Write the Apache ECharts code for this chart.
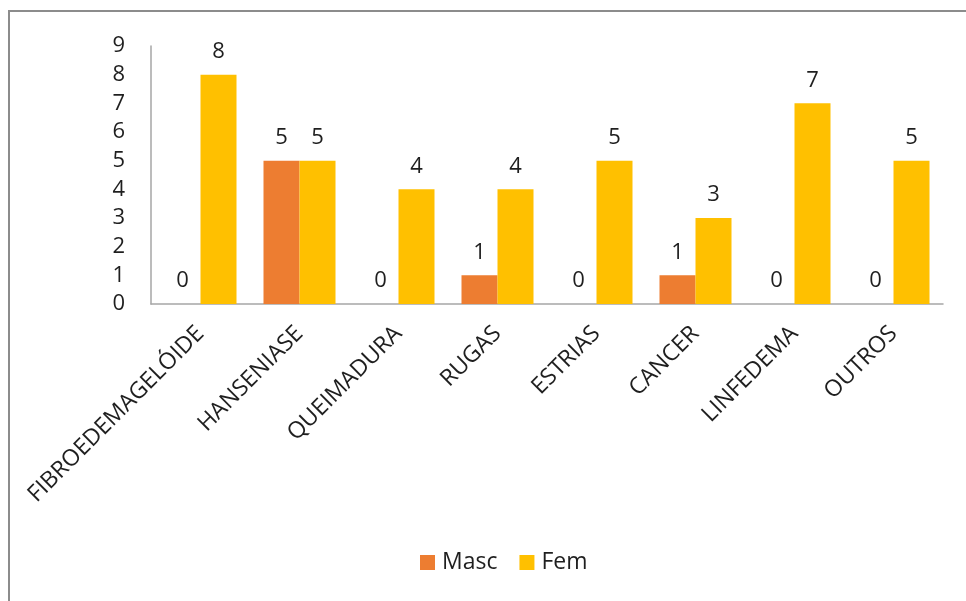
<!DOCTYPE html>
<html>
<head>
<meta charset="utf-8">
<script src="https://cdn.jsdelivr.net/npm/echarts@6/dist/echarts.min.js"></script>
<style>
  html, body { margin: 0; padding: 0; background: #fff; }
  .frame {
    position: absolute; left: 8px; top: 10px; width: 980px; height: 620px;
    border: 2px solid #8c8c8c; box-sizing: border-box;
  }
  #chart { position: absolute; left: 0; top: 0; width: 966px; height: 601px; }
</style>
</head>
<body>
<div class="frame"></div>
<div id="chart"></div>
<script>
// categorias e valores
const categories = ['FIBROEDEMAGELÓIDE', 'HANSENIASE', 'QUEIMADURA', 'RUGAS', 'ESTRIAS', 'CANCER', 'LINFEDEMA', 'OUTROS']
const masc = [0, 5, 0, 1, 0, 1, 0, 0]
const fem = [8, 5, 4, 4, 5, 3, 7, 5]

const font = 'Open Sans'
const textColor = '#1f1f1f'

let myChart = echarts.init(document.getElementById('chart'))
let labelStyle = {
  show: true,
  position: 'top',
  distance: 12,
  color: textColor,
  fontFamily: font,
  fontSize: 22
}
let option = {
  animation: false,
  textStyle: { fontFamily: font },
  grid: {
    left: 151,
    right: 23,
    top: 46,
    bottom: 297
  },
  legend: {
    data: ['Masc', 'Fem'],
    bottom: 22,
    left: 415,
    icon: 'rect',
    itemWidth: 15,
    itemHeight: 15,
    itemGap: 22,
    textStyle: { color: textColor, fontFamily: font, fontSize: 23, padding: [0, 0, 0, 2] }
  },
  xAxis: {
    type: 'category',
    data: categories,
    axisTick: { show: false },
    axisLine: { lineStyle: { color: '#a6a6a6', width: 1.5 } },
    axisLabel: {
      rotate: 45,
      interval: 0,
      margin: 26,
      color: textColor,
      fontFamily: font,
      fontSize: 23
    }
  },
  yAxis: {
    type: 'value',
    min: 0,
    max: 9,
    interval: 1,
    axisLine: { show: true, lineStyle: { color: '#a6a6a6', width: 1.5 } },
    axisTick: { show: false },
    splitLine: { show: false },
    axisLabel: {
      margin: 26,
      color: textColor,
      fontFamily: font,
      fontSize: 22
    }
  },
  series: [
    {
      name: 'Masc',
      type: 'bar',
      data: masc,
      barWidth: 36,
      barGap: '0%',
      itemStyle: { color: '#ed7d31' },
      label: labelStyle
    },
    {
      name: 'Fem',
      type: 'bar',
      data: fem,
      barWidth: 36,
      barGap: '0%',
      itemStyle: { color: '#ffc000' },
      label: labelStyle
    }
  ]
}
myChart.setOption(option, true)
</script>
</body>
</html>
